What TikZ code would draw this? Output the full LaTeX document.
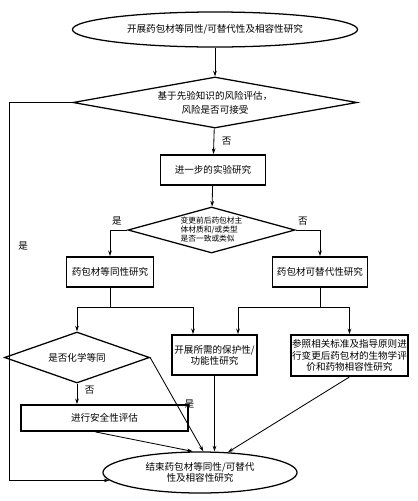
\documentclass[tikz,border=0pt]{standalone}
\usepackage{fontspec}
\setmainfont{Noto Sans CJK SC}
\usetikzlibrary{shapes.geometric,arrows.meta,calc}

\begin{document}
\begin{tikzpicture}[x=0.025cm, y=-0.025cm,
    every node/.style={font=\fontsize{6.8}{8}\selectfont},
    term/.style={ellipse, draw, line width=0.9pt, inner sep=0pt, align=center},
    dec/.style={diamond, draw, line width=0.9pt, inner sep=0pt, align=center},
    box/.style={rectangle, draw, line width=1.3pt, inner sep=0pt, align=center},
    conn/.style={-{Stealth[length=4pt,width=2.6pt]}, line width=0.6pt}]
    \useasboundingbox (0,0) rectangle (417,501);

    \node[term, minimum width=7.125cm, minimum height=0.875cm] (start) at (215,29.5) {开展药包材等同性/可替代性及相容性研究};
    \node[dec, aspect=5.57, minimum width=7.1cm, minimum height=1.275cm] (risk) at (215,102.5) {基于先验知识的风险评估，\\[2pt]风险是否可接受};
    \node[box, minimum width=2.625cm, minimum height=0.75cm] (exp) at (213,170) {进一步的实验研究};
    \node[dec, aspect=3.6, minimum width=4.175cm, minimum height=1.15cm, align=left, font=\fontsize{5.5}{6.4}\selectfont] (same) at (211.5,230) {变更前后药包材主\\体材质和/或类型\\是否一致或类似};
    \node[box, minimum width=2.175cm, minimum height=0.75cm] (equiv) at (110,272) {药包材等同性研究};
    \node[box, minimum width=2.375cm, minimum height=0.75cm] (subst) at (320,272) {药包材可替代性研究};
    \node[dec, aspect=2.84, minimum width=3.625cm, minimum height=1.275cm] (chem) at (77,357.5) {是否化学等同};
    \node[box, minimum width=2.125cm, minimum height=1cm] (prot) at (214.5,355) {开展所需的保护性/\\功能性研究};
    \node[box, minimum width=2.925cm, minimum height=1.025cm] (bio) at (349.5,355.5) {参照相关标准及指导原则进\\行变更后药包材的生物学评\\价和药物相容性研究};
    \node[box, minimum width=4.175cm, minimum height=0.65cm] (safe) at (104.5,418) {进行安全性评估};
    \node[term, minimum width=4.85cm, minimum height=1.025cm] (end) at (200,472.5) {结束药包材等同性/可替代\\性及相容性研究};

    \coordinate (back) at (9,102.5);
    \coordinate (eqsplit) at (110,307);
    \coordinate (subsplit) at (320,307);

    \draw[conn] (start) -- (risk);
    \draw[conn] (risk) -- node[right, xshift=2pt]{否} (exp);
    \draw[conn] (risk.west) -- (back) |- node[pos=0.19, right, xshift=3pt]{是} (end.185);
    \draw[conn] (exp) -- (same);
    \draw[conn] (same.west) -| node[pos=0.3, above]{是} (equiv.north);
    \draw[conn] (same.east) -| node[pos=0.15, above]{否} (subst.north);

    \draw[line width=0.6pt] (equiv) -- (eqsplit);
    \draw[conn] (eqsplit) -| (chem.north);
    \draw[conn] (eqsplit) -| ($(prot.north)+(-21.5,0)$);
    \draw[line width=0.6pt] (subst) -- (subsplit);
    \draw[conn] (subsplit) -| ($(prot.north)+(23.5,0)$);
    \draw[conn] (subsplit) -| (bio.north);

    \draw[conn] (chem.south) -- node[pos=0.3, right, xshift=2pt]{否} (chem.south |- safe.north);
    \draw[conn] ($(safe.south)+(-9,0)$) -- (end.109);
    \draw[conn] (chem.east) -- node[midway, right, xshift=2pt]{是} (end.81);
    \draw[conn] (prot) -- (prot |- end.north);
    \draw[conn] (bio.south) -- (end.36);
\end{tikzpicture}
\end{document}
